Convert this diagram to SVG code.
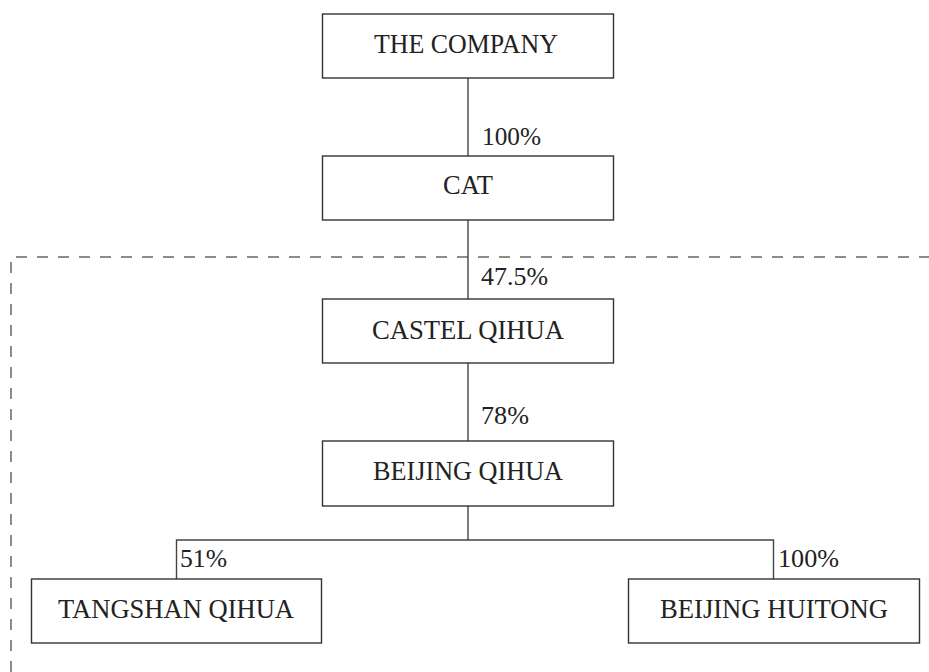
<svg xmlns="http://www.w3.org/2000/svg" width="929" height="672" viewBox="0 0 929 672">
<style>
.box{fill:#fff;stroke:#333;stroke-width:1.4}
.lbl{font-family:"Liberation Serif","Times New Roman",serif;font-size:28px;fill:#222;text-anchor:middle}
.pct{font-family:"Liberation Serif","Times New Roman",serif;font-size:25px;fill:#222}
.ln{fill:none;stroke:#444;stroke-width:1.4}
.dash{fill:none;stroke:#666;stroke-width:1.5;stroke-dasharray:11 10}
</style>
<rect width="929" height="672" fill="#fff"/>
<g id="boundary">
<path class="dash" d="M11 672 V257 H929"/>
</g>
<g id="connectors">
<path class="ln" d="M468 78 V156"/>
<path class="ln" d="M468 220 V299"/>
<path class="ln" d="M468 363 V441"/>
<path class="ln" d="M468 506 V540 M176.5 579 V540 H773.5 V579"/>
<text class="pct" x="482" y="145" textLength="59" lengthAdjust="spacingAndGlyphs">100%</text>
<text class="pct" x="481" y="285" textLength="67" lengthAdjust="spacingAndGlyphs">47.5%</text>
<text class="pct" x="481" y="424" textLength="48" lengthAdjust="spacingAndGlyphs">78%</text>
<text class="pct" x="180" y="567" textLength="47" lengthAdjust="spacingAndGlyphs">51%</text>
<text class="pct" x="778" y="567" textLength="61" lengthAdjust="spacingAndGlyphs">100%</text>
</g>
<g id="the-company">
<rect class="box" x="322.5" y="14" width="291" height="64"/>
<text class="lbl" x="466" y="53" textLength="184" lengthAdjust="spacingAndGlyphs">THE COMPANY</text>
</g>
<g id="cat">
<rect class="box" x="322.5" y="156" width="291" height="64"/>
<text class="lbl" x="468" y="194" textLength="50" lengthAdjust="spacingAndGlyphs">CAT</text>
</g>
<g id="castel-qihua">
<rect class="box" x="322.5" y="299" width="291" height="64"/>
<text class="lbl" x="468" y="339" textLength="192" lengthAdjust="spacingAndGlyphs">CASTEL QIHUA</text>
</g>
<g id="beijing-qihua">
<rect class="box" x="322.5" y="441" width="291" height="65"/>
<text class="lbl" x="468" y="480" textLength="190" lengthAdjust="spacingAndGlyphs">BEIJING QIHUA</text>
</g>
<g id="tangshan-qihua">
<rect class="box" x="31.5" y="579" width="290" height="64"/>
<text class="lbl" x="176" y="618" textLength="236" lengthAdjust="spacingAndGlyphs">TANGSHAN QIHUA</text>
</g>
<g id="beijing-huitong">
<rect class="box" x="628.5" y="579" width="291" height="64"/>
<text class="lbl" x="774" y="618" textLength="228" lengthAdjust="spacingAndGlyphs">BEIJING HUITONG</text>
</g>
</svg>
